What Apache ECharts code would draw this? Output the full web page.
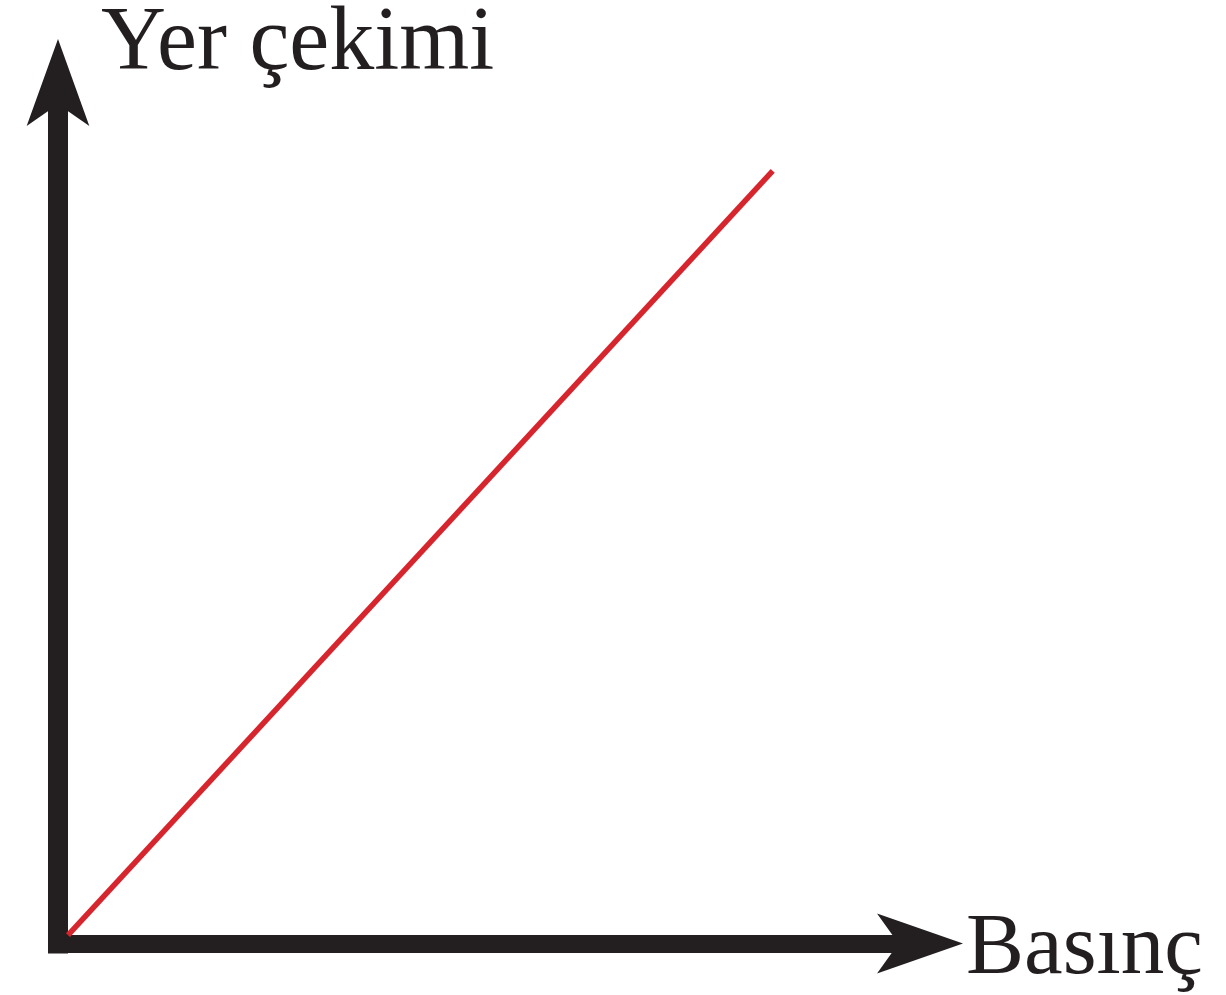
<!DOCTYPE html>
<html>
<head>
<meta charset="utf-8">
<script src="https://cdn.jsdelivr.net/npm/echarts@6/dist/echarts.min.js"></script>
<style>
html,body{margin:0;padding:0;background:#fff;}
#chart{width:1226px;height:995px;}
</style>
</head>
<body>
<div id="chart"></div>
<script>
// Data (arbitrary units, axes 0..100)
const xName = 'Basınç';
const yName = 'Yer çekimi';
const xValues = [1.2, 85.8];
const yValues = [1.0, 92.8];

const chart = echarts.init(document.getElementById('chart'), null, {renderer: 'canvas'});
const axisColor = '#231f20';
const font = '"Liberation Serif", "Times New Roman", serif';

const common = {
  type: 'value', min: 0, max: 100,
  axisTick: {show: false}, axisLabel: {show: false}, splitLine: {show: false},
  nameLocation: 'end'
};

chart.setOption({
  animation: false,
  backgroundColor: '#ffffff',
  grid: {left: 58, right: 335, top: 110, bottom: 51.5, containLabel: false},
  xAxis: Object.assign({}, common, {
    name: xName,
    nameGap: 75,
    nameTextStyle: {fontFamily: font, fontSize: 87, color: axisColor, verticalAlign: 'top', lineHeight: 14, align: 'left'},
    axisLine: {show: true, symbol: ['none', 'arrow'], symbolSize: [45, 86], symbolOffset: [0, 72],
      lineStyle: {color: axisColor, width: 18, cap: 'square'}}
  }),
  yAxis: Object.assign({}, common, {
    name: yName,
    nameGap: 21,
    nameTextStyle: {fontFamily: font, fontSize: 90, color: axisColor, align: 'left', verticalAlign: 'bottom', padding: [0, 0, 0, 43]},
    axisLine: {show: true, symbol: ['none', 'arrow'], symbolSize: [47, 87], symbolOffset: [0, 72],
      lineStyle: {color: axisColor, width: 20, cap: 'square'}}
  }),
  series: [{
    type: 'line',
    data: xValues.map((x, i) => [x, yValues[i]]),
    symbol: 'none',
    lineStyle: {color: '#d7252d', width: 5.5},
    silent: true
  }]
});
</script>
</body>
</html>
